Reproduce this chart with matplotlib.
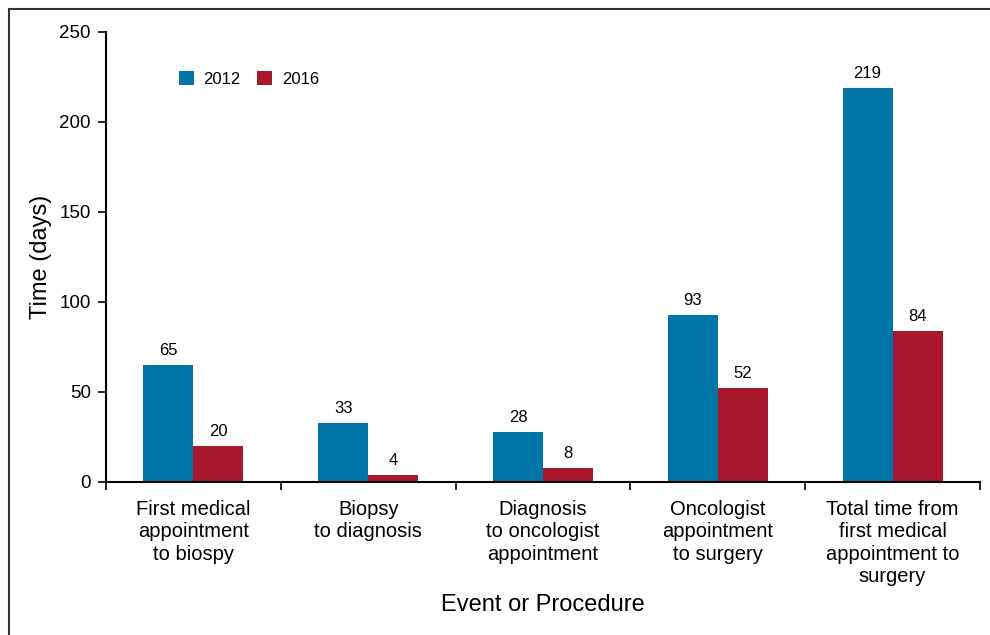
import numpy as np
import matplotlib
matplotlib.use("Agg")
import matplotlib.pyplot as plt
from matplotlib.patches import Rectangle

plt.rcParams["font.family"] = ["Liberation Sans", "DejaVu Sans"]

categories = [
    "First medical\nappointment\nto biospy",
    "Biopsy\nto diagnosis",
    "Diagnosis\nto oncologist\nappointment",
    "Oncologist\nappointment\nto surgery",
    "Total time from\nfirst medical\nappointment to\nsurgery",
]
days_2012 = [65, 33, 28, 93, 219]
days_2016 = [20, 4, 8, 52, 84]

BLUE = "#0076a8"
RED = "#a8172e"

fig = plt.figure(figsize=(9.9, 6.35), dpi=100)
ax = fig.add_axes([106 / 990, 1 - 482 / 635, 874 / 990, 450 / 635])

# frame around the figure (only top and left edges fall inside the image)
fig.add_artist(Rectangle((9 / 990, -0.2), 1.2, 0.2 + (635 - 9) / 635,
                         transform=fig.transFigure, fill=False,
                         edgecolor="#333333", linewidth=1.5))

x = np.arange(len(categories))
w = 0.286
b1 = ax.bar(x - w / 2, days_2012, w, color=BLUE, label="2012")
b2 = ax.bar(x + w / 2, days_2016, w, color=RED, label="2016")
ax.bar_label(b1, padding=5, fontsize=12)
ax.bar_label(b2, padding=5, fontsize=12)

ax.set_xlim(-0.5, len(categories) - 0.5)
ax.set_ylim(0, 250)
ax.set_yticks([0, 50, 100, 150, 200, 250])
ax.tick_params(axis="y", labelsize=13.5, length=6, width=1.2, direction="out", pad=5)
ax.set_xticks(x)
ax.set_xticklabels(categories, fontsize=14.5, linespacing=1.22)
ax.tick_params(axis="x", length=0, pad=13)
ax.set_xticks(np.arange(-0.5, len(categories)), minor=True)
ax.tick_params(axis="x", which="minor", length=6, width=1.2, direction="out")

for s in ["top", "right"]:
    ax.spines[s].set_visible(False)
for s in ["left", "bottom"]:
    ax.spines[s].set_linewidth(1.5)

ax.set_ylabel("Time (days)", fontsize=17, labelpad=5)
ax.set_xlabel("Event or Procedure", fontsize=17, labelpad=6)

ax.legend(loc="center left", bbox_to_anchor=(0.083, 0.896), ncol=2,
          frameon=False, fontsize=12, handlelength=0.9, handleheight=0.9,
          handletextpad=0.6, columnspacing=1.0, borderaxespad=0, borderpad=0)

fig.savefig("out.png", dpi=100)
